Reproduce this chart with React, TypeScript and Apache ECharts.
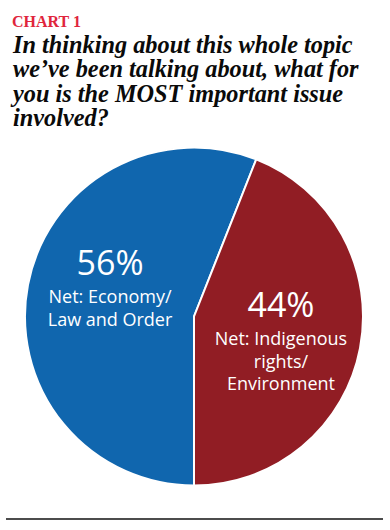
import React, { useEffect, useRef } from "react";
import * as echarts from "echarts";

const categories = ["Net: Economy/\nLaw and Order", "Net: Indigenous\nrights/\nEnvironment"];
const values = [56, 44];
const colors = ["#1066ae", "#911d24"];
const kicker = "CHART 1";
const question =
  "In thinking about this whole topic\nwe\u2019ve been talking about, what for\nyou is the MOST important issue\ninvolved?";

export default function App() {
  const ref = useRef<HTMLDivElement>(null);
  useEffect(() => {
    document.body.style.margin = "0";
    const chart = echarts.init(ref.current!, null, { renderer: "svg" });
    chart.setOption({
      animation: false,
      backgroundColor: "#ffffff",
      title: [
        {
          text: kicker,
          left: 7,
          top: 8,
          textStyle: {
            fontFamily: "Liberation Serif",
            fontWeight: "bold",
            fontSize: 16,
            lineHeight: 16,
            color: "#e0253c",
          },
        },
        {
          text: question,
          left: 8,
          top: 27,
          textStyle: {
            fontFamily: "Liberation Serif",
            fontWeight: "bold",
            fontStyle: "italic",
            fontSize: 24.3,
            lineHeight: 24.5,
            color: "#0a0a0a",
          },
        },
      ],
      graphic: [
        {
          type: "line",
          shape: { x1: 6, y1: 519, x2: 383, y2: 519 },
          style: { stroke: "#111111", lineWidth: 1.5 },
        },
      ],
      series: [
        {
          type: "pie",
          center: [194, 316.5],
          radius: [0, 169],
          startAngle: 270,
          clockwise: true,
          silent: true,
          data: categories.map((c, i) => ({
            name: c,
            value: values[i],
            itemStyle: { color: colors[i] },
          })),
          itemStyle: { borderColor: "#ffffff", borderWidth: 2 },
          labelLine: { show: false },
          label: {
            show: true,
            position: "inside",
            formatter: (p: any) => `{pct|${p.value}%}\n{txt|${p.name.split("\n").join("}\n{txt|")}}`,
            rich: {
              pct: {
                fontFamily: "Open Sans",
                fontSize: 34,
                lineHeight: 46,
                color: "#ffffff",
                align: "center",
              },
              txt: {
                fontFamily: "Open Sans",
                fontSize: 18,
                lineHeight: 22.5,
                color: "#ffffff",
                align: "center",
              },
            },
          },
          labelLayout: (p: any) =>
            p.dataIndex === 0 ? { dx: 2, dy: -15.5 } : { dx: 1, dy: 5 },
        },
      ],
    });
    return () => chart.dispose();
  }, []);
  return (
    <div
      ref={ref}
      style={{ position: "absolute", left: 0, top: 0, width: 390, height: 530 }}
    />
  );
}
